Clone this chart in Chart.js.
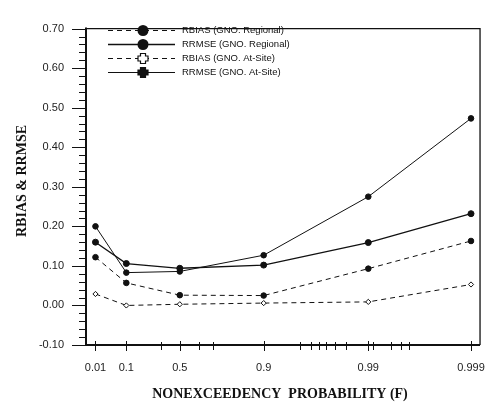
<!DOCTYPE html>
<html>
<head>
<meta charset="utf-8">
<script src="https://cdn.jsdelivr.net/npm/chart.js@4/dist/chart.umd.min.js"></script>
<style>
  html, body { margin: 0; padding: 0; background: #fff; }
  #wrap { width: 501px; height: 404px; position: relative; }
</style>
</head>
<body>
<div id="wrap"><canvas id="c" width="501" height="404"></canvas></div>
<script>
// ---- data ----
const probs = [0.01, 0.1, 0.5, 0.9, 0.99, 0.999];
const xTickLabels = ['0.01', '0.1', '0.5', '0.9', '0.99', '0.999'];
const xMinorProbs = [0.35, 0.64, 0.72, 0.954, 0.964, 0.970, 0.9745, 0.979, 0.9835, 0.991, 0.994, 0.9952, 0.996];
const yTickValues = [-0.10, 0.00, 0.10, 0.20, 0.30, 0.40, 0.50, 0.60, 0.70];
const yTickLabels = ['-0.10', '0.00', '0.10', '0.20', '0.30', '0.40', '0.50', '0.60', '0.70'];
const seriesNames = ['RBIAS (GNO. Regional)', 'RRMSE (GNO. Regional)', 'RBIAS (GNO. At-Site)', 'RRMSE (GNO. At-Site)'];
const rbiasRegional = [0.122, 0.057, 0.026, 0.025, 0.093, 0.163];
const rrmseRegional = [0.160, 0.106, 0.094, 0.102, 0.159, 0.232];
const rbiasAtSite   = [0.029, 0.000, 0.003, 0.006, 0.009, 0.053];
const rrmseAtSite   = [0.200, 0.083, 0.086, 0.127, 0.275, 0.473];

// Gumbel reduced variate (probability paper)
const gum = p => -Math.log(-Math.log(p));
const toPts = vals => probs.map((p, i) => ({ x: gum(p), y: vals[i] }));

const INK = '#111';
const dash = [5, 4];

const datasets = [
  { label: seriesNames[0], data: toPts(rbiasRegional), borderColor: INK, borderWidth: 1, borderDash: dash,
    pointStyle: 'circle', pointRadius: 2.8, pointBackgroundColor: INK, pointBorderColor: INK, pointBorderWidth: 1 },
  { label: seriesNames[1], data: toPts(rrmseRegional), borderColor: INK, borderWidth: 1.3,
    pointStyle: 'circle', pointRadius: 3, pointBackgroundColor: INK, pointBorderColor: INK, pointBorderWidth: 1 },
  { label: seriesNames[2], data: toPts(rbiasAtSite), borderColor: INK, borderWidth: 1, borderDash: dash,
    pointStyle: 'rectRot', pointRadius: 2.6, pointBackgroundColor: '#fff', pointBorderColor: INK, pointBorderWidth: 1 },
  { label: seriesNames[3], data: toPts(rrmseAtSite), borderColor: INK, borderWidth: 1,
    pointStyle: 'circle', pointRadius: 2.8, pointBackgroundColor: INK, pointBorderColor: INK, pointBorderWidth: 1 }
];

const decor = {
  id: 'decor',
  afterDraw(chart) {
    const ctx = chart.ctx, a = chart.chartArea;
    const xs = chart.scales.x, ys = chart.scales.y;
    ctx.save();
    ctx.strokeStyle = INK;
    // frame
    ctx.lineWidth = 1.3;
    ctx.beginPath();
    ctx.moveTo(a.left, a.top); ctx.lineTo(a.right, a.top); ctx.lineTo(a.right, a.bottom);
    ctx.stroke();
    ctx.lineWidth = 2;
    ctx.beginPath();
    ctx.moveTo(a.left, a.top - 1); ctx.lineTo(a.left, a.bottom); ctx.lineTo(a.right, a.bottom);
    ctx.stroke();
    // y ticks
    ctx.lineWidth = 1;
    yTickValues.forEach(v => {
      const y = Math.round(ys.getPixelForValue(v)) + 0.5;
      ctx.beginPath(); ctx.moveTo(a.left - 14, y); ctx.lineTo(a.left + 1, y); ctx.stroke();
      if (v < 0.69) {
        for (let k = 1; k < 5; k++) {
          const ym = Math.round(ys.getPixelForValue(v + k * 0.02)) + 0.5;
          ctx.beginPath(); ctx.moveTo(a.left - 7, ym); ctx.lineTo(a.left + 1, ym); ctx.stroke();
        }
      }
    });
    // x ticks
    probs.forEach(p => {
      const x = Math.round(xs.getPixelForValue(gum(p))) + 0.5;
      ctx.beginPath(); ctx.moveTo(x, a.bottom - 4); ctx.lineTo(x, a.bottom + 6); ctx.stroke();
    });
    xMinorProbs.forEach(p => {
      const x = Math.round(xs.getPixelForValue(gum(p))) + 0.5;
      ctx.beginPath(); ctx.moveTo(x, a.bottom - 3); ctx.lineTo(x, a.bottom + 5); ctx.stroke();
    });
    // axis titles
    ctx.fillStyle = INK;
    ctx.font = 'bold 14px "Liberation Serif", "Times New Roman", serif';
    ctx.textAlign = 'center'; ctx.textBaseline = 'middle';
    ctx.fillText('NONEXCEEDENCY  PROBABILITY (F)', 280, 394);
    ctx.save();
    ctx.translate(22, 181); ctx.rotate(-Math.PI / 2);
    ctx.fillText('RBIAS & RRMSE', 0, 0);
    ctx.restore();
    // legend
    const rows = [30, 44, 58, 72];
    const x0 = a.left + 22, x1 = a.left + 89, xm = a.left + 57, xt = a.left + 96;
    ctx.font = '9.5px "Liberation Sans", Arial, sans-serif';
    ctx.textAlign = 'left';
    datasets.forEach((d, i) => {
      const y = rows[i] + 0.5;
      ctx.lineWidth = i === 1 ? 1.5 : 1;
      ctx.setLineDash(d.borderDash || []);
      ctx.beginPath(); ctx.moveTo(x0, y); ctx.lineTo(x1, y); ctx.stroke();
      ctx.setLineDash([]);
      if (i < 2) {
        ctx.beginPath(); ctx.arc(xm, y, 5.5, 0, Math.PI * 2); ctx.fill();
      } else {
        ctx.fillStyle = i === 2 ? '#fff' : INK;
        ctx.beginPath();
        ctx.rect(xm - 2.5, y - 5, 5, 10); ctx.rect(xm - 5, y - 2.5, 10, 5);
        ctx.fill();
        ctx.fillStyle = INK;
        ctx.lineWidth = 1.2;
        ctx.beginPath();
        ctx.moveTo(xm - 2.5, y - 5); ctx.lineTo(xm + 2.5, y - 5); ctx.lineTo(xm + 2.5, y - 2.5);
        ctx.lineTo(xm + 5, y - 2.5); ctx.lineTo(xm + 5, y + 2.5); ctx.lineTo(xm + 2.5, y + 2.5);
        ctx.lineTo(xm + 2.5, y + 5); ctx.lineTo(xm - 2.5, y + 5); ctx.lineTo(xm - 2.5, y + 2.5);
        ctx.lineTo(xm - 5, y + 2.5); ctx.lineTo(xm - 5, y - 2.5); ctx.lineTo(xm - 2.5, y - 2.5);
        ctx.closePath(); ctx.stroke();
      }
      ctx.fillText(d.label, xt, y);
    });
    ctx.restore();
  }
};

new Chart(document.getElementById('c'), {
  type: 'line',
  data: { datasets },
  options: {
    responsive: false,
    animation: false,
    layout: { padding: { top: 13, right: 10, left: 0, bottom: 0 } },
    plugins: { legend: { display: false }, tooltip: { enabled: false } },
    scales: {
      x: {
        type: 'linear', min: -1.74, max: 7.11,
        afterBuildTicks: s => { s.ticks = probs.map(p => ({ value: gum(p) })); },
        afterFit: s => { s.height = 59; },
        grid: { display: false, drawTicks: false },
        border: { display: false },
        ticks: {
          autoSkip: false, maxRotation: 0, padding: 16, color: '#222',
          font: { family: '"Liberation Sans", Arial, sans-serif', size: 11 },
          callback: (v, i) => xTickLabels[i]
        }
      },
      y: {
        type: 'linear', min: -0.1, max: 0.7,
        afterBuildTicks: s => { s.ticks = yTickValues.map(v => ({ value: v })); },
        afterFit: s => { s.width = 86; },
        grid: { display: false, drawTicks: false },
        border: { display: false },
        ticks: {
          padding: 22, color: '#222',
          font: { family: '"Liberation Sans", Arial, sans-serif', size: 11 },
          callback: (v, i) => yTickLabels[i]
        }
      }
    }
  },
  plugins: [decor]
});
</script>
</body>
</html>
